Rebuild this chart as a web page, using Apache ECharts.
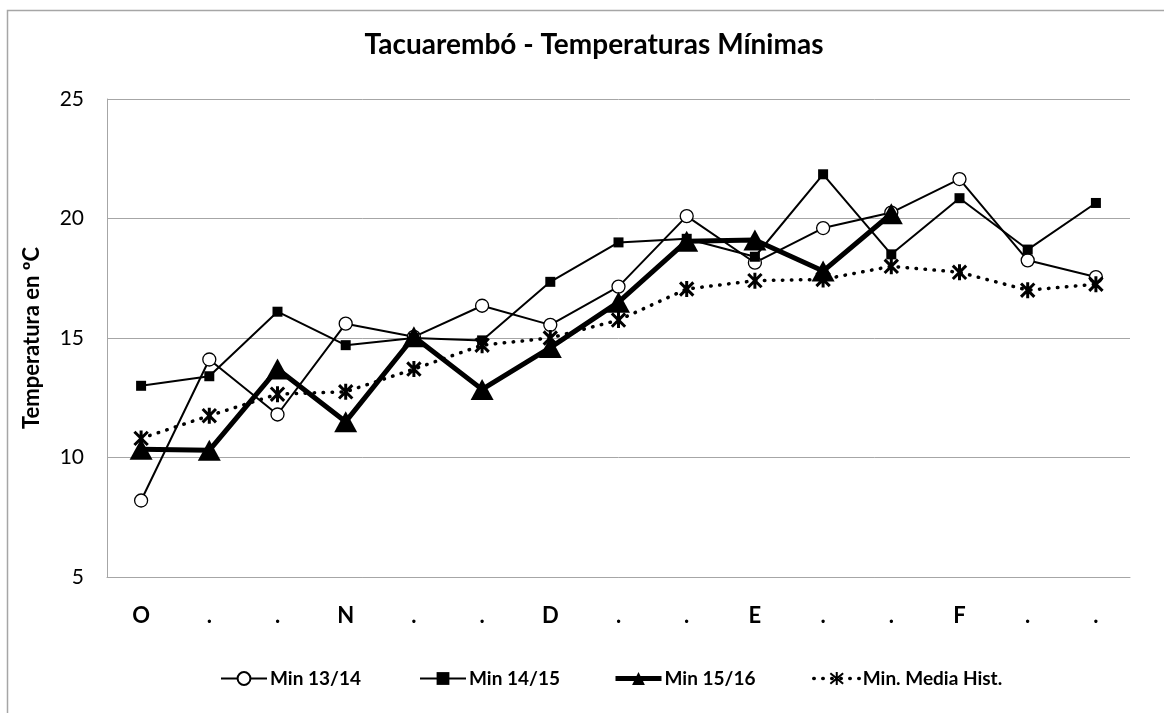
<!DOCTYPE html>
<html>
<head>
<meta charset="utf-8">
<script src="https://cdn.jsdelivr.net/npm/echarts@6/dist/echarts.min.js"></script>
<style>
  html, body { margin: 0; padding: 0; background: #fff; }
  #chart { width: 1164px; height: 713px; }
</style>
</head>
<body>
<div id="chart"></div>
<script>
// Month markers along the season (October to February)
const categories = ['O', '.', '.', 'N', '.', '.', 'D', '.', '.', 'E', '.', '.', 'F', '.', '.'];

// Minimum temperatures (ºC)
const min1314 = [8.2, 14.1, 11.8, 15.6, 15.05, 16.35, 15.55, 17.15, 20.1, 18.15, 19.6, 20.25, 21.65, 18.25, 17.55];
const min1415 = [13.0, 13.4, 16.1, 14.7, 15.0, 14.9, 17.35, 19.0, 19.15, 18.4, 21.85, 18.5, 20.85, 18.7, 20.65];
const min1516 = [10.35, 10.3, 13.7, 11.5, 15.05, 12.85, 14.6, 16.5, 19.05, 19.1, 17.8, 20.2, null, null, null];
const minMediaHist = [10.8, 11.75, 12.65, 12.75, 13.7, 14.7, 15.0, 15.75, 17.05, 17.4, 17.45, 18.0, 17.75, 17.0, 17.25];

const seriesNames = ['Min 13/14', 'Min 14/15', 'Min 15/16', 'Min. Media Hist.'];
const lineWidths = [2, 2, 5, 3.5];
const yTicks = { min: 5, max: 25, interval: 5 };

const FONT = 'Lato, "Open Sans", sans-serif';
const GRID_GRAY = '#a6a6a6';
const ASTERISK = 'path://M0 0L10 10M10 0L0 10M5 -1L5 11';

const chart = echarts.init(document.getElementById('chart'), null, { renderer: 'canvas' });

// One legend block per series so each entry sits at its own spot
function legendAt(idx, left) {
  return {
    data: [{ name: seriesNames[idx], lineStyle: { width: lineWidths[idx] } }],
    left: left,
    top: 664,
    itemWidth: 46,
    itemHeight: 16,
    itemGap: 0,
    textStyle: { fontFamily: FONT, fontSize: 19, fontWeight: 'bold', color: '#000', padding: [0, 0, 0, -2] }
  };
}

const option = {
  backgroundColor: '#fff',
  animation: false,
  graphic: [{
    type: 'rect',
    shape: { x: 7.5, y: 10.5, width: 1300, height: 900 },
    style: { fill: 'none', stroke: GRID_GRAY, lineWidth: 1.5 },
    silent: true,
    z: -10
  }],
  title: {
    text: 'Tacuarembó - Temperaturas Mínimas',
    left: 589,
    textAlign: 'center',
    top: 26,
    textStyle: { fontFamily: FONT, fontSize: 28, fontWeight: 'bold', color: '#000' }
  },
  legend: [
    legendAt(0, 215),
    legendAt(1, 414),
    legendAt(2, 608),
    legendAt(3, 807)
  ],
  grid: { left: 107, right: 34, top: 99, bottom: 136 },
  xAxis: {
    type: 'category',
    data: categories,
    boundaryGap: true,
    axisLine: { show: true, lineStyle: { color: GRID_GRAY, width: 1 } },
    axisTick: { show: false },
    axisLabel: { fontFamily: FONT, fontSize: 22, fontWeight: 'bold', color: '#000', margin: 28, interval: 0 },
    splitLine: { show: false }
  },
  yAxis: {
    type: 'value',
    min: yTicks.min,
    max: yTicks.max,
    interval: yTicks.interval,
    name: 'Temperatura en ºC',
    nameLocation: 'middle',
    nameGap: 64,
    nameTextStyle: { fontFamily: FONT, fontSize: 22, fontWeight: 'bold', color: '#000' },
    axisLine: { show: true, lineStyle: { color: GRID_GRAY, width: 1 } },
    axisTick: { show: false },
    axisLabel: { fontFamily: FONT, fontSize: 21, color: '#000', margin: 23 },
    splitLine: { show: true, lineStyle: { color: GRID_GRAY, width: 1 } }
  },
  series: [
    {
      name: seriesNames[0],
      type: 'line',
      data: min1314,
      symbol: 'circle',
      symbolSize: 13,
      lineStyle: { color: '#000', width: lineWidths[0] },
      itemStyle: { color: '#fff', borderColor: '#000', borderWidth: 1.3 },
      z: 2
    },
    {
      name: seriesNames[1],
      type: 'line',
      data: min1415,
      symbol: 'rect',
      symbolSize: 10,
      lineStyle: { color: '#000', width: lineWidths[1] },
      itemStyle: { color: '#000', borderColor: '#000', borderWidth: 0 },
      z: 3
    },
    {
      name: seriesNames[2],
      type: 'line',
      data: min1516,
      symbol: 'triangle',
      symbolSize: [23, 21],
      lineStyle: { color: '#000', width: lineWidths[2] },
      itemStyle: { color: '#000', borderColor: '#000', borderWidth: 0 },
      z: 4
    },
    {
      name: seriesNames[3],
      type: 'line',
      data: minMediaHist,
      symbol: ASTERISK,
      symbolSize: 16,
      symbolKeepAspect: true,
      lineStyle: { color: '#000', width: lineWidths[3], type: [0.5, 8.5], cap: 'round' },
      itemStyle: { color: '#000', borderColor: '#000', borderWidth: 3 },
      z: 5
    }
  ]
};

chart.setOption(option);
</script>
</body>
</html>
